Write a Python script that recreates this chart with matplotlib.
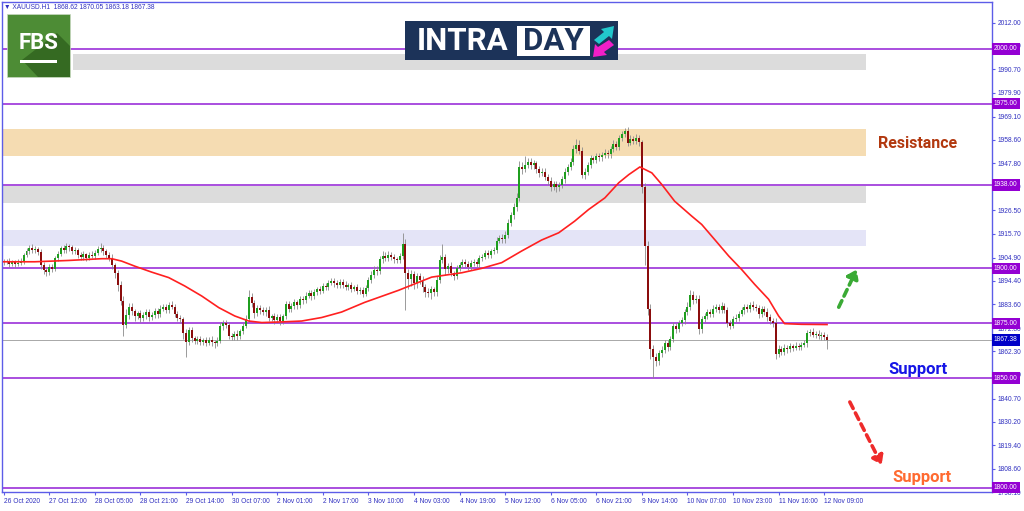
import numpy as np
import matplotlib.pyplot as plt
from matplotlib.patches import Rectangle, Polygon

################################ Data (XAUUSD H1) ####################################

first_open = 1903.2

close = [
    1902.8, 1903.4, 1902.1, 1902.9, 1901.8, 1902.6, 1903.5, 1906.2, 1907.9, 1909.3,
    1908.4, 1908.9, 1907.6, 1901.5, 1899.2, 1898.4, 1900.6, 1899.9, 1904.8, 1906.7,
    1909.1, 1908.2, 1910.4, 1909.6, 1907.8, 1908.3, 1906.1, 1905.2, 1906.4, 1904.9,
    1906.3, 1905.8, 1907.1, 1908.6, 1909.4, 1907.7, 1906.2, 1904.8, 1901.5, 1897.9,
    1892.3, 1885.1, 1874.2, 1878.8, 1882.6, 1880.4, 1878.1, 1879.5, 1877.2, 1878.6,
    1880.1, 1877.9, 1878.8, 1880.6, 1879.2, 1881.5, 1882.4, 1881.1, 1883.3, 1882.6,
    1879.4, 1877.3, 1876.8, 1870.5, 1866.4, 1871.8, 1868.2, 1866.9, 1867.8, 1866.5,
    1867.2, 1866.1, 1867.5, 1866.3, 1865.8, 1867.1, 1873.6, 1875.2, 1874.1, 1869.4,
    1868.7, 1870.3, 1869.1, 1871.4, 1873.8, 1876.9, 1886.8, 1884.2, 1879.6, 1882.1,
    1880.8, 1879.9, 1881.2, 1877.5, 1878.3, 1876.4, 1877.8, 1876.2, 1878.1, 1883.6,
    1881.4, 1882.9, 1884.5, 1883.2, 1886.1, 1885.4, 1887.6, 1888.9, 1887.3, 1889.2,
    1890.5, 1889.8, 1892.1, 1891.6, 1893.4, 1894.2, 1893.1, 1892.4, 1893.8, 1892.6,
    1891.5, 1892.3, 1890.8, 1891.4, 1889.6, 1890.2, 1888.4, 1891.1, 1894.6, 1896.9,
    1899.3, 1898.6, 1904.2, 1905.8, 1904.9, 1906.3, 1905.1, 1904.2, 1903.8, 1905.6,
    1911.2, 1898.1, 1895.3, 1897.6, 1893.2, 1896.4, 1894.8, 1891.7, 1889.3, 1888.6,
    1890.4, 1889.1, 1894.7, 1903.8, 1905.2, 1899.6, 1901.3, 1897.8, 1896.5, 1900.2,
    1901.7, 1902.9, 1902.1, 1900.6, 1902.4, 1903.1, 1901.8, 1904.6, 1905.3, 1906.9,
    1906.2, 1907.8, 1908.4, 1912.6, 1913.9, 1913.2, 1915.4, 1920.8, 1924.3, 1927.9,
    1932.1, 1946.3, 1945.4, 1947.2, 1948.6, 1946.9, 1947.8, 1945.2, 1943.4, 1944.1,
    1941.6, 1939.8, 1937.2, 1938.4, 1936.9, 1938.1, 1940.6, 1943.8, 1946.1, 1948.4,
    1954.2, 1956.1, 1953.4, 1942.6, 1944.1, 1947.3, 1950.2, 1949.4, 1951.1, 1950.6,
    1951.8, 1952.6, 1951.9, 1954.3, 1956.8, 1955.4, 1959.6, 1961.2, 1962.4, 1957.3,
    1959.1, 1958.2, 1959.6, 1957.4, 1937.2, 1910.4, 1881.3, 1863.2, 1859.8, 1857.6,
    1861.4, 1862.9, 1865.8, 1864.1, 1867.9, 1873.6, 1872.4, 1875.1, 1876.3, 1880.2,
    1882.6, 1887.9, 1885.6, 1885.9, 1872.2, 1876.8, 1878.4, 1880.1, 1879.2, 1881.6,
    1882.3, 1881.1, 1882.8, 1880.9, 1875.3, 1873.8, 1876.9, 1877.6, 1879.4, 1880.8,
    1882.2, 1881.4, 1883.1, 1882.6, 1881.8, 1879.2, 1881.5, 1880.3, 1877.8, 1876.2,
    1874.9, 1861.2, 1863.4, 1862.1, 1863.8, 1863.2, 1864.4, 1863.9, 1864.8, 1864.2,
    1865.3, 1865.9, 1870.4, 1870.9, 1869.8, 1870.2, 1869.1, 1869.6, 1868.62, 1867.38,
]

# wick length above / below the body
up_wick = [
    1.2, 0.8, 1.5, 0.9, 1.1, 1.6, 1.3, 1.0, 1.4, 1.2,
    1.8, 1.1, 0.9, 1.3, 1.5, 0.8, 1.6, 1.2, 1.0, 1.4,
    1.1, 1.7, 1.3, 0.9, 1.2, 1.5, 1.0, 1.3, 1.6, 0.8,
    1.2, 1.4, 1.1, 1.5, 2.1, 1.3, 0.9, 1.2, 1.6, 1.0,
    1.5, 1.8, 2.2, 2.6, 1.4, 1.7, 1.2, 1.1, 1.5, 1.3,
    1.2, 1.6, 1.1, 1.4, 1.3, 1.9, 1.2, 1.5, 1.4, 1.8,
    1.3, 1.1, 1.5, 1.2, 1.8, 1.4, 1.6, 1.0, 1.3, 1.2,
    1.1, 1.4, 1.2, 1.5, 1.0, 1.6, 1.9, 1.3, 1.2, 1.5,
    1.3, 1.2, 1.6, 1.1, 1.4, 1.7, 3.2, 2.1, 1.6, 1.4,
    1.2, 1.5, 1.3, 1.8, 1.1, 1.4, 1.2, 1.5, 1.3, 1.6,
    1.4, 1.2, 1.7, 1.3, 1.5, 1.2, 1.6, 1.4, 1.3, 1.5,
    1.2, 1.6, 1.3, 1.4, 1.1, 1.5, 1.2, 1.7, 1.3, 1.4,
    1.5, 1.2, 1.4, 1.1, 1.6, 1.3, 1.2, 1.5, 1.4, 1.8,
    1.6, 1.9, 1.4, 2.3, 1.5, 1.8, 1.3, 1.6, 1.2, 1.5,
    4.8, 2.1, 1.6, 1.8, 1.4, 1.7, 1.3, 1.5, 1.2, 1.6,
    1.4, 1.3, 1.8, 2.4, 5.8, 1.5, 1.3, 1.6, 1.2, 1.4,
    1.3, 1.5, 1.2, 1.4, 1.6, 1.1, 1.3, 1.5, 1.2, 1.6,
    1.4, 1.2, 1.5, 1.8, 1.3, 1.6, 1.4, 1.7, 1.5, 1.9,
    2.1, 2.6, 2.0, 4.1, 1.8, 1.5, 1.7, 1.3, 1.6, 1.4,
    1.5, 1.2, 1.6, 1.3, 1.4, 1.2, 1.5, 1.7, 1.6, 1.8,
    2.1, 3.0, 2.4, 1.8, 1.5, 1.3, 1.6, 1.2, 1.4, 1.5,
    1.3, 1.6, 1.2, 1.4, 1.5, 1.3, 1.2, 1.4, 1.6, 1.8,
    1.5, 1.4, 1.6, 1.3, 1.0, 1.8, 2.2, 2.5, 2.1, 1.8,
    1.6, 1.9, 1.4, 1.7, 1.5, 1.8, 1.6, 1.4, 1.7, 1.5,
    2.1, 2.4, 1.6, 1.8, 2.0, 1.5, 1.4, 1.6, 1.3, 1.5,
    1.4, 1.6, 1.8, 1.3, 1.5, 1.2, 1.4, 1.6, 1.3, 1.5,
    1.4, 1.6, 1.5, 1.8, 1.3, 1.5, 1.4, 1.2, 1.6, 1.3,
    1.2, 2.4, 1.5, 1.3, 1.6, 1.2, 1.4, 1.3, 1.5, 1.2,
    1.3, 1.5, 1.6, 1.4, 1.8, 1.3, 1.5, 1.2, 1.6, 1.43,
]
dn_wick = [
    1.3, 1.0, 1.6, 1.2, 1.5, 0.9, 1.1, 1.4, 1.0, 1.3,
    1.2, 1.5, 1.4, 1.6, 1.8, 1.7, 1.2, 1.4, 1.1, 1.3,
    1.0, 1.4, 1.2, 1.5, 1.3, 1.1, 1.6, 1.2, 1.4, 1.5,
    1.3, 1.1, 1.4, 1.2, 1.0, 1.6, 1.3, 1.5, 1.8, 2.2,
    2.4, 2.0, 5.2, 1.6, 1.8, 1.5, 2.0, 1.3, 1.7, 1.4,
    1.5, 1.8, 1.3, 1.2, 1.6, 1.4, 1.1, 1.5, 1.3, 1.2,
    1.6, 1.4, 1.9, 2.5, 6.7, 1.3, 1.8, 1.5, 1.2, 1.6,
    1.3, 1.7, 1.2, 1.5, 1.9, 1.4, 1.2, 1.6, 1.5, 1.8,
    1.5, 1.2, 1.6, 1.4, 1.3, 1.2, 1.5, 1.8, 2.0, 1.4,
    1.6, 1.3, 1.5, 1.7, 1.4, 1.6, 1.3, 1.8, 1.5, 1.2,
    1.5, 1.3, 1.2, 1.6, 1.4, 1.5, 1.2, 1.3, 1.6, 1.4,
    1.3, 1.5, 1.2, 1.6, 1.4, 1.2, 1.5, 1.3, 1.4, 1.6,
    1.4, 1.3, 1.6, 1.2, 1.5, 1.4, 1.5, 1.2, 1.3, 1.4,
    1.5, 1.8, 1.3, 1.6, 1.4, 1.5, 1.3, 1.6, 1.4, 1.2,
    1.3, 17.0, 4.5, 3.2, 2.8, 2.1, 1.9, 2.4, 2.2, 1.6,
    2.4, 1.8, 1.5, 1.6, 1.4, 2.6, 1.8, 1.5, 1.9, 1.4,
    1.5, 1.3, 1.6, 1.4, 1.2, 1.5, 1.3, 1.6, 1.4, 1.2,
    1.3, 1.5, 1.4, 1.6, 1.2, 1.8, 1.5, 1.7, 1.4, 1.6,
    1.8, 1.5, 2.2, 1.6, 1.4, 1.8, 1.5, 1.7, 1.6, 1.4,
    1.5, 1.7, 1.9, 1.4, 2.1, 1.5, 1.3, 1.6, 1.4, 1.5,
    1.4, 1.6, 1.5, 1.5, 1.8, 1.4, 1.6, 1.5, 1.3, 1.6,
    1.5, 1.3, 1.6, 1.4, 1.2, 1.5, 1.3, 1.6, 1.4, 1.5,
    1.3, 1.5, 1.4, 1.6, 3.0, 9.0, 2.5, 4.5, 9.8, 2.2,
    1.8, 1.6, 1.5, 1.9, 1.4, 1.6, 1.8, 1.5, 1.3, 1.6,
    1.5, 1.4, 1.8, 1.6, 2.1, 1.5, 1.3, 1.6, 1.4, 1.2,
    1.5, 1.4, 1.6, 1.3, 2.0, 1.5, 1.2, 1.4, 1.5, 1.3,
    1.4, 1.3, 1.5, 1.6, 1.4, 1.7, 1.3, 1.5, 1.6, 1.4,
    1.6, 2.6, 1.8, 1.5, 1.4, 1.6, 1.3, 1.5, 1.2, 1.4,
    1.5, 1.3, 1.6, 1.4, 1.2, 1.5, 1.3, 1.6, 1.4, 4.2,
]

# moving average (bar index, price)
ma_bar = [0, 10.9, 22.8, 34.4, 37.9, 41.4, 46.0, 51.9, 57.9, 63.5, 69.5, 75.5, 81.1, 86.0,
          90.6, 97.6, 104.6, 111.6, 118.6, 126.7, 138.6, 150.2, 160.8, 167.8, 174.8, 181.8,
          188.8, 194.8, 200.4, 205.3, 211.0, 215.9, 219.4, 223.3, 227.5, 231.0, 235.5, 241.5,
          245.0, 249.5, 254.5, 259.0, 263.6, 268.5, 272.0, 274.1, 280.1, 289.0]
ma_val = [1903.0, 1903.0, 1903.6, 1904.4, 1904.4, 1903.3, 1901.0, 1898.3, 1895.8, 1892.0,
          1887.4, 1882.1, 1878.3, 1876.0, 1875.3, 1875.6, 1876.0, 1877.6, 1880.1, 1884.5,
          1890.0, 1896.0, 1898.0, 1900.0, 1902.6, 1907.9, 1912.9, 1916.2, 1921.5, 1926.8,
          1932.1, 1939.0, 1942.7, 1946.2, 1943.5, 1938.2, 1930.6, 1923.8, 1920.0, 1913.2,
          1905.6, 1899.5, 1892.7, 1885.9, 1878.3, 1874.8, 1874.5, 1874.4]

time_labels = ['26 Oct 2020', '27 Oct 12:00', '28 Oct 05:00', '28 Oct 21:00', '29 Oct 14:00',
               '30 Oct 07:00', '2 Nov 01:00', '2 Nov 17:00', '3 Nov 10:00', '4 Nov 03:00',
               '4 Nov 19:00', '5 Nov 12:00', '6 Nov 05:00', '6 Nov 21:00', '9 Nov 14:00',
               '10 Nov 07:00', '10 Nov 23:00', '11 Nov 16:00', '12 Nov 09:00']
label_step = 16

price_ticks = [2012.00, 2001.40, 1990.70, 1979.90, 1969.10, 1958.60, 1947.80, 1937.20, 1926.50,
               1915.70, 1904.90, 1894.40, 1883.60, 1872.80, 1862.30, 1851.50, 1840.70, 1830.20,
               1819.40, 1808.60, 1798.10]

levels = [2000, 1975, 1938, 1900, 1875, 1850, 1800]
last_price = 1867.38

zone_lo = [1990.5, 1951.4, 1930.0, 1910.0]
zone_hi = [1997.7, 1963.6, 1937.3, 1917.3]
zone_start = [0.0717, 0.0, 0.0, 0.0]
zone_color = ['#dcdcdc', '#f5dcb2', '#dcdcdc', '#e4e4f7']

################################ Derived candle values ####################################

close = np.array(close)
opens = np.concatenate([[first_open], close[:-1]])
highs = np.maximum(opens, close) + np.array(up_wick)
lows = np.minimum(opens, close) - np.array(dn_wick)
idx = np.arange(len(close))
bull = close >= opens

################################ Plot ####################################

W, H = 1024, 511
def fx(x):
    return x / W
def fy(y):
    return 1 - y / H

fig = plt.figure(figsize=(W / 100, H / 100), dpi=100)
ax = fig.add_axes([fx(2), fy(492), 990 / W, 490 / H])
ax.set_xlim(-0.6, 346.9)
ax.set_ylim(1798.64, 2021.36)

axis_col = '#5c5ce8'
text_col = '#3030c0'
lvl_col = '#9b30d9'

for lo, hi, x0, c in zip(zone_lo, zone_hi, zone_start, zone_color):
    ax.axhspan(lo, hi, xmin=x0, xmax=0.8727, color=c, lw=0, zorder=0)

for lv in levels:
    ax.axhline(lv, color=lvl_col, lw=1.2, zorder=1)
ax.axhline(last_price, color='#a8a8a8', lw=0.7, zorder=1)

# candles
ax.vlines(idx, lows, highs, color='#8a8a8a', lw=0.6, zorder=3)
ax.bar(idx[bull], (close - opens)[bull], bottom=opens[bull], width=0.7,
       color='#1f9e1f', lw=0, zorder=4)
ax.bar(idx[~bull], (close - opens)[~bull], bottom=opens[~bull], width=0.7,
       color='#8b0d0d', lw=0, zorder=4)

ax.plot(ma_bar, ma_val, color='#ff2020', lw=1.2, zorder=5, solid_joinstyle='round')

# axes styling
for s in ax.spines.values():
    s.set_color(axis_col)
    s.set_linewidth(1)
ax.yaxis.tick_right()
ax.set_yticks(price_ticks)
ax.set_yticklabels([f'{p:.2f}' for p in price_ticks])
ax.set_xticks(idx[::label_step])
ax.set_xticklabels(time_labels, ha='left')
ax.tick_params(axis='both', colors=axis_col, labelcolor=text_col, labelsize=4.8,
               length=2.5, width=0.8, pad=1.5)
for t in ax.get_yticklabels() + ax.get_xticklabels():
    t.set_family('Liberation Sans')

# level labels on price axis
ytr = ax.get_yaxis_transform()
for lv in levels:
    ax.text(1.002, lv, f'{lv:.2f}', transform=ytr, ha='left', va='center', fontsize=4.8,
            family='Liberation Sans', color='white', zorder=10, clip_on=False,
            bbox=dict(boxstyle='square,pad=0.32', fc='#9400d3', ec='none'))
ax.text(1.002, last_price, f'{last_price:.2f}', transform=ytr, ha='left', va='center',
        fontsize=4.8, family='Liberation Sans', color='white', zorder=10, clip_on=False,
        bbox=dict(boxstyle='square,pad=0.32', fc='#0000c8', ec='none'))

# annotations
ax.text(307, 1956.8, 'Resistance', fontsize=11.5, fontweight='bold', family='Roboto',
        color='#b2380e', va='center', zorder=6)
ax.text(310.4, 1853.8, 'Support', fontsize=12, fontweight='bold', family='Roboto',
        color='#1515e6', va='center', zorder=6)
ax.text(311.8, 1804.7, 'Support', fontsize=12, fontweight='bold', family='Roboto',
        color='#ff6a30', va='center', zorder=6)

ax.annotate('', xy=(299.4, 1899.5), xytext=(293.1, 1882.3),
            arrowprops=dict(arrowstyle='-|>,head_length=0.5,head_width=0.35', color='#3aaa35',
                            lw=2.6, linestyle=(0, (2.0, 1.4)), shrinkA=0, shrinkB=0))
ax.annotate('', xy=(308.2, 1810.5), xytext=(297.0, 1839.1),
            arrowprops=dict(arrowstyle='-|>,head_length=0.5,head_width=0.35', color='#ee2b2b',
                            lw=2.6, linestyle=(0, (2.0, 1.4)), shrinkA=0, shrinkB=0))

# header text
fig.text(fx(4), fy(7), '\u25bc XAUUSD.H1  1868.62 1870.05 1863.18 1867.38', fontsize=4.8,
         family='Liberation Sans', color=text_col, va='center')

# FBS logo
fig.patches.append(Rectangle((fx(7), fy(77)), 63 / W, 63 / H, transform=fig.transFigure,
                             fc='#4d8c35', ec='#c8d8c0', lw=0.5, zorder=10))
fig.patches.append(Polygon([(fx(22), fy(60)), (fx(57), fy(33)), (fx(70), fy(46)),
                            (fx(70), fy(77)), (fx(38), fy(77))], closed=True,
                           transform=fig.transFigure, fc='#356a22', ec='none', zorder=11))
fig.text(fx(38.5), fy(43), 'FBS', fontsize=16, fontweight='bold', family='Roboto',
         color='white', ha='center', va='center', zorder=12)
fig.patches.append(Rectangle((fx(20), fy(63)), 37 / W, 3 / H, transform=fig.transFigure,
                             fc='white', ec='none', zorder=12))

# INTRADAY logo
fig.patches.append(Rectangle((fx(405), fy(60)), 213 / W, 39 / H, transform=fig.transFigure,
                             fc='#1c3359', ec='none', zorder=10))
fig.patches.append(Rectangle((fx(517), fy(56)), 73 / W, 30 / H, transform=fig.transFigure,
                             fc='white', ec='none', zorder=11))
fig.text(fx(462.5), fy(41), 'INTRA', fontsize=22.5, fontweight='bold', family='Roboto',
         color='white', ha='center', va='center', zorder=12)
fig.text(fx(553.5), fy(41), 'DAY', fontsize=22.5, fontweight='bold', family='Roboto',
         color='#1c3359', ha='center', va='center', zorder=12)
fig.patches.append(Polygon([(fx(594), fy(40)), (fx(604), fy(32)), (fx(601), fy(29)),
                            (fx(614), fy(26)), (fx(612), fy(39)), (fx(609), fy(36)),
                            (fx(599), fy(44))], closed=True, transform=fig.transFigure,
                           fc='#22c8cc', ec='none', zorder=12))
fig.patches.append(Polygon([(fx(614), fy(45)), (fx(604), fy(52)), (fx(607), fy(55)),
                            (fx(593), fy(57)), (fx(595), fy(44)), (fx(598), fy(47)),
                            (fx(609), fy(40))], closed=True, transform=fig.transFigure,
                           fc='#f21fc8', ec='none', zorder=12))

fig.savefig('out.png', dpi=100, facecolor='white')
